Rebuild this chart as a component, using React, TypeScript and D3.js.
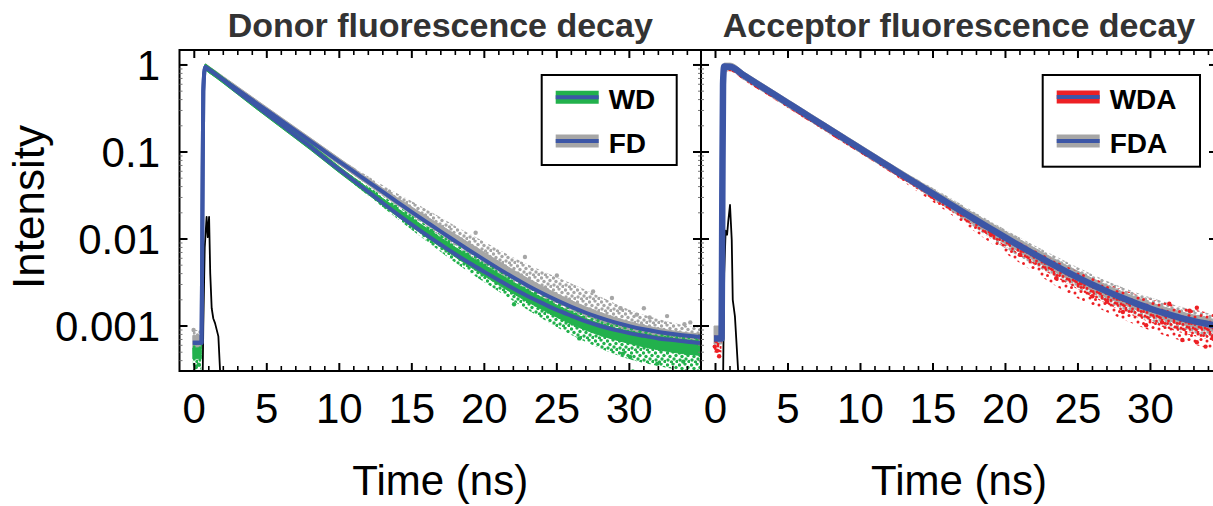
import React from 'react';
import * as d3 from 'd3';

const W = 1213;
const H = 506;
const FONT = "'Liberation Sans', Arial, Helvetica, sans-serif";

// ---------- ticks ----------
const timeTicks = [0, 5, 10, 15, 20, 25, 30];
const intensityTicks = [1, 0.1, 0.01, 0.001];
const intensityTickLabels = ['1', '0.1', '0.01', '0.001'];

// ---------- Donor panel ----------
const donorFitTime = [-0.1, 0.5, 0.56, 0.62, 0.75, 1, 2, 3, 4, 5, 6, 7, 8, 9, 10, 11, 12, 13, 14, 15, 16, 17, 18, 19, 20, 21, 22, 23, 24, 25, 26, 27, 28, 29, 30, 31, 32, 33, 34, 35];
const fdFit = [0.00064, 0.00064, 0.02, 0.5, 0.95, 0.888, 0.677, 0.516, 0.394, 0.3, 0.2289, 0.1746, 0.1333, 0.1017, 0.0776, 0.0593, 0.0454, 0.0347, 0.0266, 0.0204, 0.01574, 0.01215, 0.00942, 0.00733, 0.00575, 0.00454, 0.00361, 0.00291, 0.00238, 0.00197, 0.00166, 0.00142, 0.00124, 0.0011, 0.000996, 0.000916, 0.000855, 0.000809, 0.000773, 0.000746];
const wdFit = [0.00064, 0.00064, 0.02, 0.5, 0.95, 0.888, 0.668, 0.489, 0.369, 0.2736, 0.206, 0.153, 0.1152, 0.0845, 0.0628, 0.0467, 0.0348, 0.0259, 0.01936, 0.01465, 0.01116, 0.00861, 0.00668, 0.00526, 0.00419, 0.00335, 0.0027, 0.0022, 0.00183, 0.00153, 0.00131, 0.00113, 0.001, 0.000902, 0.000828, 0.000771, 0.00072, 0.00069, 0.000659, 0.000636];

const donorBandTime = [-0.1, 0.5, 0.56, 0.62, 0.75, 1, 2, 4, 6, 8, 10, 12, 14, 16, 18, 20, 22, 24, 26, 28, 30, 32, 34, 35];
const fdCoreLow = [0.00055, 0.00055, 0.018, 0.45, 0.87, 0.817, 0.623, 0.362, 0.2106, 0.1226, 0.0714, 0.0418, 0.0247, 0.0148, 0.00895, 0.00552, 0.00347, 0.00226, 0.00156, 0.00114, 0.000896, 0.000752, 0.000665, 0.000642];
const fdCoreHigh = [0.00078, 0.00078, 0.025, 0.56, 1.03, 0.968, 0.738, 0.429, 0.2495, 0.1453, 0.0846, 0.0495, 0.0298, 0.01826, 0.0113, 0.00702, 0.0044, 0.00286, 0.00196, 0.00143, 0.00112, 0.00094, 0.000835, 0.000806];
const fdOuterLow = [0.00048, 0.00048, 0.018, 0.45, 0.87, 0.817, 0.623, 0.362, 0.2106, 0.1226, 0.0714, 0.0409, 0.0239, 0.01385, 0.00829, 0.00506, 0.00318, 0.00209, 0.00143, 0.00099, 0.000717, 0.000581, 0.000487, 0.000463];
const fdOuterHigh = [0.0009, 0.0009, 0.025, 0.56, 1.03, 0.968, 0.738, 0.429, 0.2495, 0.1453, 0.0846, 0.0522, 0.0333, 0.022, 0.01413, 0.00932, 0.00614, 0.00428, 0.00307, 0.00217, 0.00154, 0.0012, 0.001, 0.00095];
const wdCoreLow = [0.00042, 0.00042, 0.018, 0.45, 0.87, 0.817, 0.615, 0.339, 0.1895, 0.106, 0.0578, 0.0324, 0.0182, 0.01049, 0.00621, 0.00377, 0.00235, 0.00154, 0.00105, 0.00078, 0.00063, 0.000533, 0.000474, 0.000458];
const wdCoreHigh = [0.00056, 0.00056, 0.025, 0.56, 1.02, 0.96, 0.721, 0.398, 0.2225, 0.1244, 0.0678, 0.0383, 0.02246, 0.01339, 0.00802, 0.00503, 0.00319, 0.0021, 0.00144, 0.00106, 0.00087, 0.000756, 0.000692, 0.000668];
const wdOuterLow = [0.0003, 0.0003, 0.018, 0.45, 0.87, 0.817, 0.615, 0.339, 0.1895, 0.106, 0.0578, 0.0313, 0.01704, 0.00949, 0.00534, 0.00318, 0.00194, 0.00121, 0.000786, 0.00055, 0.000414, 0.000346, 0.000303, 0.000293];
const wdOuterHigh = [0.00062, 0.00062, 0.025, 0.56, 1.02, 0.96, 0.721, 0.398, 0.2225, 0.1244, 0.0678, 0.04, 0.0242, 0.01451, 0.00882, 0.00553, 0.00351, 0.00234, 0.00164, 0.00122, 0.000994, 0.000864, 0.000778, 0.00075];

const fdDots: [number, number][] = [[19.4, 0.0118], [22.8, 0.0062], [25.0, 0.0038], [27.5, 0.0025], [28.8, 0.0021], [29.4, 0.0016], [30.5, 0.00135], [31.0, 0.0016], [31.4, 0.00125], [32.6, 0.0013], [33.8, 0.00105], [34.2, 0.0011], [-0.05, 0.0009]];
const wdDots: [number, number][] = [[22.05, 0.00178], [26.55, 0.00072], [29.55, 0.00048], [30.05, 0.00044], [30.24, 0.0003], [31.93, 0.00037], [33.72, 0.00039], [33.9, 0.00049], [0.1, 0.00034], [0.3, 0.00036]];

const donorIrfTime = [0.55, 0.62, 0.72, 0.85, 0.93, 1.02, 1.1, 1.2, 1.31, 1.43, 1.66, 1.78, 1.9];
const donorIrf = [0.0001, 0.001, 0.008, 0.018, 0.0105, 0.018, 0.004, 0.0016, 0.00122, 0.00108, 0.00076, 0.0003, 0.0001];

// ---------- Acceptor panel ----------
const accFitTime = [-0.1, 0.42, 0.47, 0.52, 0.6, 1, 2, 3, 4, 5, 6, 7, 8, 9, 10, 11, 12, 13, 14, 15, 16, 17, 18, 19, 20, 21, 22, 23, 24, 25, 26, 27, 28, 29, 30, 31, 32, 33, 34, 34.6];
const fdaFit = [0.00072, 0.00072, 0.03, 0.6, 0.96, 0.955, 0.75, 0.589, 0.4626, 0.3634, 0.2855, 0.2244, 0.1763, 0.1386, 0.109, 0.0857, 0.0675, 0.0531, 0.0419, 0.033, 0.0261, 0.02065, 0.01637, 0.01302, 0.01037, 0.0083, 0.00667, 0.00539, 0.00439, 0.0036, 0.00298, 0.0025, 0.00212, 0.00182, 0.00158, 0.0014, 0.00125, 0.00114, 0.00105, 0.001];

const accBandTime = [-0.1, 0.42, 0.47, 0.52, 0.6, 1, 2, 4, 6, 8, 10, 12, 14, 16, 18, 20, 22, 24, 26, 28, 30, 32, 34, 34.6];
const fdaCoreLow = [0.00062, 0.00062, 0.027, 0.54, 0.86, 0.86, 0.675, 0.416, 0.257, 0.1587, 0.0981, 0.0608, 0.0377, 0.0227, 0.0141, 0.0088, 0.00567, 0.00373, 0.00253, 0.0018, 0.00134, 0.00106, 0.00089, 0.00085];
const fdaCoreHigh = [0.001, 0.001, 0.035, 0.66, 1.05, 1.05, 0.825, 0.509, 0.314, 0.194, 0.12, 0.0743, 0.0465, 0.0296, 0.0189, 0.0122, 0.0079, 0.0052, 0.00352, 0.0025, 0.00186, 0.00147, 0.00123, 0.00117];
const fdaOuterLow = [0.00062, 0.00062, 0.027, 0.54, 0.86, 0.86, 0.675, 0.416, 0.257, 0.1587, 0.0981, 0.0608, 0.0377, 0.0222, 0.0131, 0.00778, 0.005, 0.00329, 0.00224, 0.00157, 0.00115, 0.0009, 0.000756, 0.00072];
const fdaOuterHigh = [0.001, 0.001, 0.035, 0.66, 1.05, 1.05, 0.825, 0.509, 0.314, 0.194, 0.12, 0.0743, 0.0475, 0.031, 0.0198, 0.0128, 0.0084, 0.0057, 0.0039, 0.0028, 0.00212, 0.00168, 0.0014, 0.00134];
const wdaCoreLow = [0.0005, 0.0005, 0.026, 0.52, 0.845, 0.84, 0.66, 0.407, 0.2512, 0.1551, 0.0959, 0.0594, 0.0365, 0.0219, 0.0134, 0.0082, 0.0051, 0.00325, 0.00215, 0.0015, 0.0011, 0.00085, 0.0007, 0.00066];
const wdaCoreHigh = [0.00078, 0.00078, 0.0294, 0.57, 0.91, 0.905, 0.71, 0.438, 0.27, 0.1675, 0.1035, 0.0641, 0.0398, 0.0248, 0.0155, 0.0098, 0.0063, 0.0042, 0.00285, 0.00202, 0.0015, 0.00119, 0.001, 0.00095];
const wdaOuterLow = [0.0005, 0.0005, 0.026, 0.52, 0.845, 0.84, 0.66, 0.407, 0.2512, 0.1551, 0.0959, 0.0594, 0.0344, 0.0204, 0.01179, 0.00684, 0.00414, 0.00255, 0.00173, 0.00121, 0.000885, 0.000688, 0.000557, 0.00053];
const wdaOuterHigh = [0.00078, 0.00078, 0.0294, 0.57, 0.91, 0.905, 0.71, 0.438, 0.27, 0.1675, 0.1035, 0.0641, 0.0419, 0.0261, 0.01719, 0.0112, 0.00747, 0.00505, 0.00358, 0.00265, 0.00205, 0.00169, 0.00142, 0.00135];

const wdaDots: [number, number][] = [[19.0, 0.0112], [21.0, 0.0066], [23.5, 0.00354], [25.2, 0.0031], [26.0, 0.0022], [27.0, 0.0019], [28.1, 0.00145], [29.7, 0.00102], [30.8, 0.0011], [31.3, 0.0018], [32.2, 0.00069], [32.7, 0.0015], [33.2, 0.00065], [33.2, 0.00162], [33.8, 0.00058], [34.3, 0.00075], [-0.05, 0.00058], [0.1, 0.00052], [0.25, 0.00045]];

const accIrfTime = [0.5, 0.6, 0.7, 0.8, 0.88, 1.0, 1.12, 1.19, 1.34, 1.57, 1.65];
const accIrf = [0.0001, 0.004, 0.0125, 0.0112, 0.016, 0.0246, 0.0098, 0.002, 0.00129, 0.00029, 0.0001];

// ---------- colours ----------
const BLUE = '#3c56a6';
const GRAY = '#a6a6a6';
const GREEN = '#22b14c';
const RED = '#ed2024';

const Y_TOP = 50;
const Y_BOTTOM = 371;
const yScale = d3.scaleLog().domain([0.000304, 1.486]).range([Y_BOTTOM, Y_TOP]);

// speckle texture layouts (positions inside a 12px tile)
const speckDense: [number, number][] = [[1.5, 2], [7, 1], [4, 5.5], [10, 4.5], [2, 9], [8, 8], [5.5, 11], [11, 10.5]];
const speckSparse: [number, number][] = [[2, 3], [8, 1.5], [5, 8], [10.5, 9.5]];

type BandSpec = { t: number[]; lo: number[]; hi: number[]; fill: string; solid?: string };
type LineSpec = { t: number[]; v: number[]; color: string; width: number; linear?: boolean };
type DotSpec = { pts: [number, number][]; color: string };

interface PanelProps {
  id: string;
  x0: number;
  x1: number;
  tMin: number;
  tMax: number;
  bands: BandSpec[];
  lines: LineSpec[];
  dots: DotSpec[];
  title: string;
  showYLabels: boolean;
}

function Panel(p: PanelProps) {
  const x = d3.scaleLinear().domain([p.tMin, p.tMax]).range([p.x0, p.x1]);
  const area = (b: BandSpec) =>
    d3
      .area<number>()
      .x((_, i) => x(b.t[i]))
      .y0((_, i) => yScale(b.lo[i]))
      .y1((_, i) => yScale(b.hi[i]))
      .curve(d3.curveMonotoneX)(b.t) || '';
  const line = (l: LineSpec) =>
    d3
      .line<number>()
      .x((_, i) => x(l.t[i]))
      .y((_, i) => yScale(l.v[i]))
      .curve(l.linear ? d3.curveLinear : d3.curveMonotoneX)(l.t) || '';

  const minorX = d3.range(Math.ceil(p.tMin), Math.floor(p.tMax) + 1).filter((v) => v % 5 !== 0 && v >= 0);
  const minorY: number[] = [];
  for (let k = -4; k <= 0; k++) {
    for (let m = 2; m <= 9; m++) {
      const v = m * Math.pow(10, k);
      if (v > 0.000304 && v < 1.486) minorY.push(v);
    }
  }
  const cx = (p.x0 + p.x1) / 2;
  return (
    <g>
      <defs>
        <clipPath id={p.id}>
          <rect x={p.x0} y={Y_TOP} width={p.x1 - p.x0} height={Y_BOTTOM - Y_TOP} />
        </clipPath>
      </defs>
      <g clipPath={`url(#${p.id})`}>
        {p.bands.map((b, i) => (
          <path key={'b' + i} d={area(b)} fill={b.fill} stroke={b.solid || 'none'} strokeWidth={b.solid ? 1 : 0} />
        ))}
        {p.dots.map((d, i) => (
          <g key={'d' + i}>
            {d.pts.map((pt, j) => (
              <circle key={j} cx={x(pt[0])} cy={yScale(pt[1])} r={2.2} fill={d.color} />
            ))}
          </g>
        ))}
        {p.lines.map((l, i) => (
          <path key={'l' + i} d={line(l)} fill="none" stroke={l.color} strokeWidth={l.width} strokeLinejoin="round" />
        ))}
      </g>
      <rect x={p.x0} y={Y_TOP} width={p.x1 - p.x0} height={Y_BOTTOM - Y_TOP} fill="none" stroke="#000" strokeWidth={2} />
      {timeTicks.map((t) => (
        <g key={'xt' + t}>
          <line x1={x(t)} x2={x(t)} y1={Y_BOTTOM} y2={Y_BOTTOM - 8} stroke="#000" strokeWidth={2} />
          <line x1={x(t)} x2={x(t)} y1={Y_TOP} y2={Y_TOP + 8} stroke="#000" strokeWidth={2} />
          <text x={x(t)} y={423} textAnchor="middle" fontFamily={FONT} fontSize={42} fill="#000">
            {t}
          </text>
        </g>
      ))}
      {minorX.map((t) => (
        <g key={'xm' + t}>
          <line x1={x(t)} x2={x(t)} y1={Y_BOTTOM} y2={Y_BOTTOM - 5} stroke="#000" strokeWidth={1.6} />
          <line x1={x(t)} x2={x(t)} y1={Y_TOP} y2={Y_TOP + 5} stroke="#000" strokeWidth={1.6} />
        </g>
      ))}
      {intensityTicks.map((v, i) => (
        <g key={'yt' + v}>
          <line x1={p.x0} x2={p.x0 + 8} y1={yScale(v)} y2={yScale(v)} stroke="#000" strokeWidth={2} />
          <line x1={p.x1} x2={p.x1 - 8} y1={yScale(v)} y2={yScale(v)} stroke="#000" strokeWidth={2} />
          {p.showYLabels && (
            <text x={160} y={yScale(v)} dy="0.36em" textAnchor="end" fontFamily={FONT} fontSize={42} fill="#000">
              {intensityTickLabels[i]}
            </text>
          )}
        </g>
      ))}
      {minorY.map((v) => (
        <g key={'ym' + v}>
          <line x1={p.x0} x2={p.x0 + 3} y1={yScale(v)} y2={yScale(v)} stroke="#777" strokeWidth={1} />
          <line x1={p.x1} x2={p.x1 - 3} y1={yScale(v)} y2={yScale(v)} stroke="#777" strokeWidth={1} />
        </g>
      ))}
      <text x={cx} y={37} textAnchor="middle" fontFamily={FONT} fontWeight="bold" fontSize={34} fill="#333">
        {p.title}
      </text>
      <text x={cx} y={495} textAnchor="middle" fontFamily={FONT} fontSize={42} fill="#000">
        Time (ns)
      </text>
    </g>
  );
}

function Legend({ x, y, w, h, items }: { x: number; y: number; w: number; h: number; items: { label: string; color: string; ly: number }[] }) {
  return (
    <g>
      <rect x={x} y={y} width={w} height={h} fill="#fff" stroke="#000" strokeWidth={2} />
      {items.map((it) => (
        <g key={it.label}>
          <line x1={x + 14} x2={x + 57} y1={it.ly} y2={it.ly} stroke={it.color} strokeWidth={13} />
          <line x1={x + 14} x2={x + 57} y1={it.ly} y2={it.ly} stroke={BLUE} strokeWidth={4} />
          <text x={x + 67} y={it.ly + 12} fontFamily={FONT} fontWeight="bold" fontSize={28} fill="#000">
            {it.label}
          </text>
        </g>
      ))}
    </g>
  );
}

function SpeckPattern({ id, color, r, layout, dx, dy }: { id: string; color: string; r: number; layout: [number, number][]; dx: number; dy: number }) {
  return (
    <pattern id={id} patternUnits="userSpaceOnUse" width={12} height={12} x={dx} y={dy}>
      {layout.map((q, i) => (
        <circle key={i} cx={q[0]} cy={q[1]} r={r} fill={color} />
      ))}
    </pattern>
  );
}

export default function App() {
  return (
    <div style={{ position: 'absolute', left: 0, top: 0 }}>
      <svg width={W} height={H} style={{ display: 'block' }}>
        <defs>
          <SpeckPattern id="spGray" color={GRAY} r={1.7} layout={speckDense} dx={0} dy={0} />
          <SpeckPattern id="spGreen" color={GREEN} r={1.7} layout={speckDense} dx={6} dy={3} />
          <SpeckPattern id="spRed" color={RED} r={1.5} layout={speckSparse} dx={5} dy={2} />
          <SpeckPattern id="spRedCore" color={RED} r={1.4} layout={speckDense} dx={3} dy={7} />
        </defs>
        <rect x={0} y={0} width={W} height={H} fill="#fff" />
        <Panel
          id="clipDonor"
          x0={179.5}
          x1={701}
          tMin={-1.02}
          tMax={34.94}
          title="Donor fluorescence decay"
          showYLabels={true}
          bands={[
            { t: donorBandTime, lo: fdOuterLow, hi: fdOuterHigh, fill: 'url(#spGray)' },
            { t: donorBandTime, lo: fdCoreLow, hi: fdCoreHigh, fill: GRAY, solid: GRAY },
            { t: donorBandTime, lo: wdOuterLow, hi: wdOuterHigh, fill: 'url(#spGreen)' },
            { t: donorBandTime, lo: wdCoreLow, hi: wdCoreHigh, fill: GREEN, solid: GREEN },
          ]}
          dots={[
            { pts: fdDots, color: GRAY },
            { pts: wdDots, color: GREEN },
          ]}
          lines={[
            { t: donorIrfTime, v: donorIrf, color: '#000', width: 1.8, linear: true },
            { t: donorFitTime, v: fdFit, color: BLUE, width: 4 },
            { t: donorFitTime, v: wdFit, color: BLUE, width: 4 },
          ]}
        />
        <Panel
          id="clipAcceptor"
          x0={701}
          x1={1217}
          tMin={-1.0}
          tMax={34.59}
          title="Acceptor fluorescence decay"
          showYLabels={false}
          bands={[
            { t: accBandTime, lo: fdaOuterLow, hi: fdaOuterHigh, fill: 'url(#spGray)' },
            { t: accBandTime, lo: fdaCoreLow, hi: fdaCoreHigh, fill: GRAY, solid: GRAY },
            { t: accBandTime, lo: wdaOuterLow, hi: wdaOuterHigh, fill: 'url(#spRed)' },
            { t: accBandTime, lo: wdaCoreLow, hi: wdaCoreHigh, fill: 'url(#spRedCore)' },
          ]}
          dots={[{ pts: wdaDots, color: RED }]}
          lines={[
            { t: accIrfTime, v: accIrf, color: '#000', width: 1.8, linear: true },
            { t: accFitTime, v: fdaFit, color: BLUE, width: 6.5 },
          ]}
        />
        <Legend
          x={541.7}
          y={75}
          w={135}
          h={90}
          items={[
            { label: 'WD', color: GREEN, ly: 97.3 },
            { label: 'FD', color: GRAY, ly: 141 },
          ]}
        />
        <Legend
          x={1042.7}
          y={75}
          w={157.3}
          h={91.7}
          items={[
            { label: 'WDA', color: RED, ly: 97 },
            { label: 'FDA', color: GRAY, ly: 141 },
          ]}
        />
        <text transform="translate(44,207) rotate(-90)" textAnchor="middle" fontFamily={FONT} fontSize={44} fill="#000">
          Intensity
        </text>
      </svg>
    </div>
  );
}
